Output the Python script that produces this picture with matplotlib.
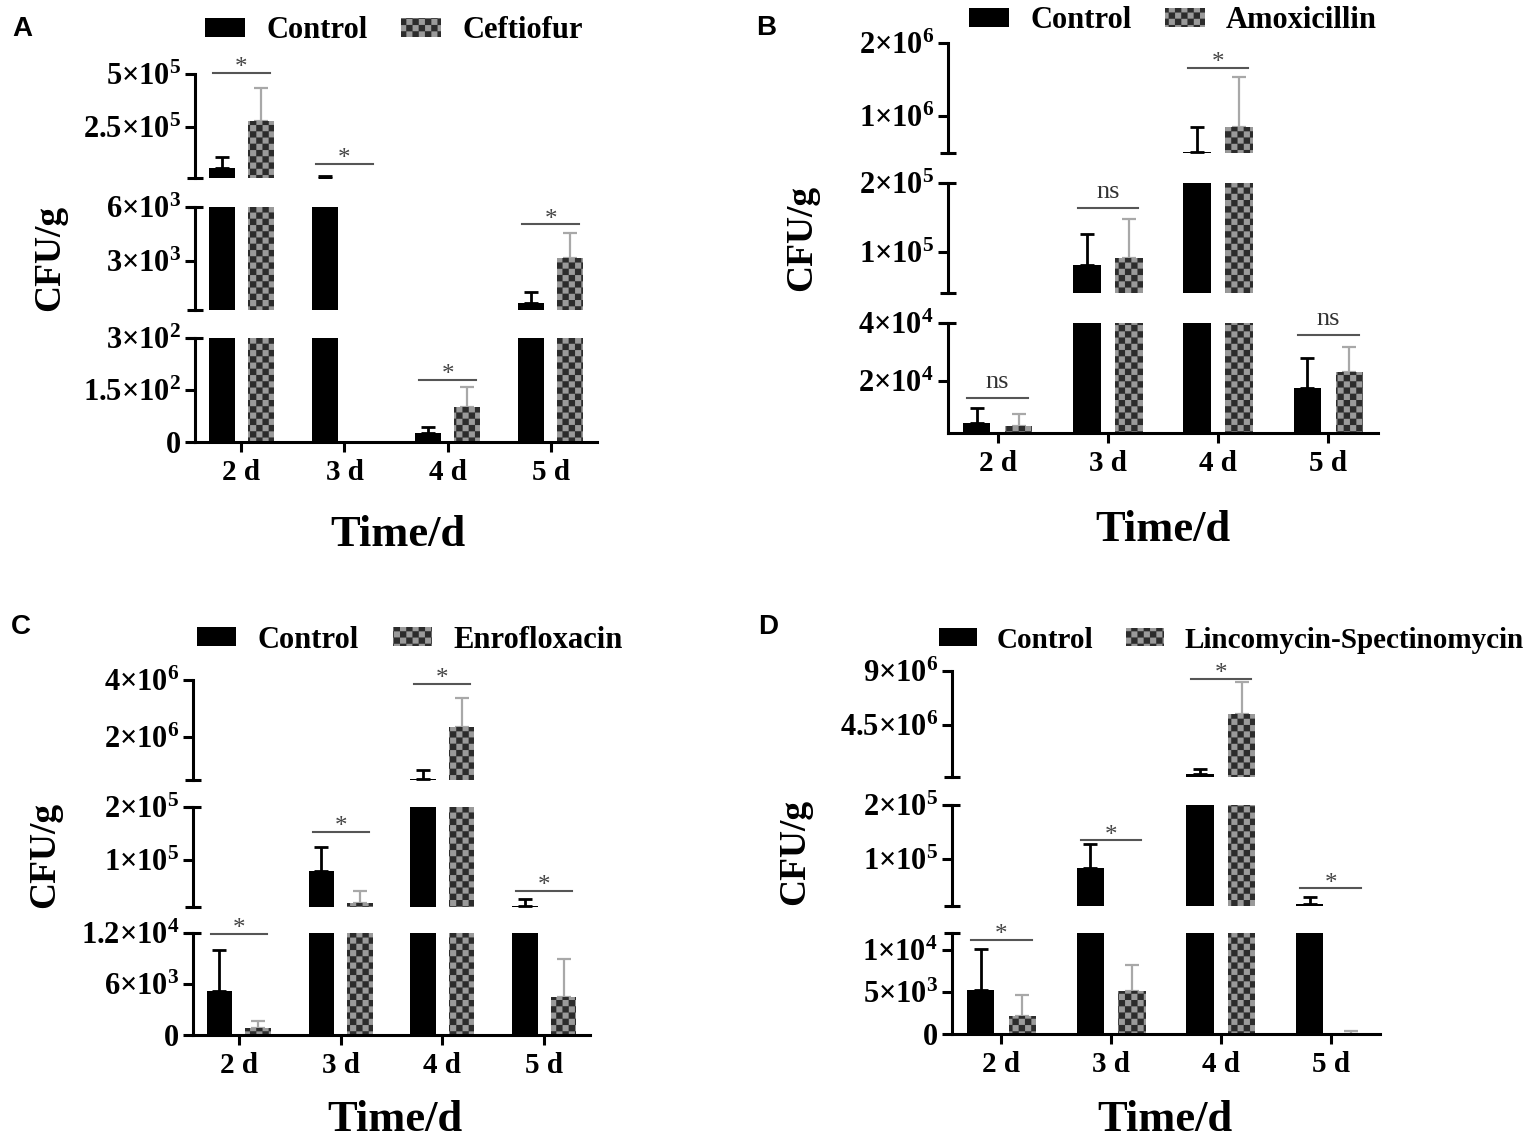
import numpy as np
from matplotlib import pyplot, hatch as mhatch
from matplotlib.path import Path
from matplotlib.ticker import FixedLocator, FuncFormatter

pyplot.rcParams["font.family"] = "Liberation Serif"
pyplot.rcParams["font.weight"] = "bold"
pyplot.rcParams["mathtext.fontset"] = "custom"
pyplot.rcParams["mathtext.rm"] = "Liberation Serif:bold"
pyplot.rcParams["mathtext.bf"] = "Liberation Serif:bold"
pyplot.rcParams["mathtext.it"] = "Liberation Serif:italic:bold"
pyplot.rcParams["mathtext.default"] = "bf"
pyplot.rcParams["hatch.linewidth"] = 0.1
pyplot.rcParams["axes.linewidth"] = 2.2


class CheckerHatch(mhatch.HatchPatternBase):
    # an "o" in the hatch string gives a checkerboard of filled squares
    def __init__(self, hatch, density):
        self.n = 16 if "o" in hatch else 0
        self.num_vertices = 5 * (self.n * self.n // 2)

    def set_vertices_and_codes(self, vertices, codes):
        s = 1.0 / self.n
        k = 0
        for i in range(self.n):
            for j in range(self.n):
                if (i + j) % 2:
                    continue
                vertices[k:k + 5] = [(i*s, j*s), ((i+1)*s, j*s), ((i+1)*s, (j+1)*s), (i*s, (j+1)*s), (i*s, j*s)]
                codes[k:k + 5] = [Path.MOVETO, Path.LINETO, Path.LINETO, Path.LINETO, Path.CLOSEPOLY]
                k += 5

mhatch._hatch_types = [CheckerHatch]


days = ["2 d", "3 d", "4 d", "5 d"]

# A - Ceftiofur
a_control = [5.4e4, 8e3, 26, 700]
a_control_err = [5.3e4, 8e3, 17, 600]
a_treated = [2.75e5, 0, 100, 3200]
a_treated_err = [1.58e5, 0, 58, 1360]
a_segments = [(0, 300), (300, 6e3), (6e3, 5e5)]
a_ticks = [[0, 150, 300], [3e3, 6e3], [2.5e5, 5e5]]
a_sig = [5.05e5, 7.3e4, 180, 5050]
a_sig_labels = ["*", "*", "*", "*"]

# B - Amoxicillin
b_control = [5500, 8.1e4, 5.2e5, 1.76e4]
b_control_err = [5200, 4.5e4, 3.3e5, 1.03e4]
b_treated = [4500, 9.1e4, 8.5e5, 2.31e4]
b_treated_err = [4100, 5.7e4, 6.8e5, 8600]
b_segments = [(2000, 4e4), (4e4, 2e5), (5e5, 2e6)]
b_ticks = [[2e4, 4e4], [1e5, 2e5], [1e6, 2e6]]
b_sig = [1.41e4, 1.64e5, 1.66e6, 3.59e4]
b_sig_labels = ["ns", "ns", "*", "ns"]

# C - Enrofloxacin
c_control = [5200, 8.0e4, 5.3e5, 1.4e4]
c_control_err = [4800, 4.5e4, 3.1e5, 1.3e4]
c_treated = [820, 1.95e4, 2.35e6, 4470]
c_treated_err = [830, 2.25e4, 1.02e6, 4470]
c_segments = [(0, 1.2e4), (1.2e4, 2e5), (5e5, 4e6)]
c_ticks = [[0, 6e3, 1.2e4], [1e5, 2e5], [2e6, 4e6]]
c_sig = [1.19e4, 1.53e5, 3.86e6, 4.3e4]
c_sig_labels = ["*", "*", "*", "*"]

# D - Lincomycin-Spectinomycin
d_control = [5180, 8.2e4, 4.5e5, 1.57e4]
d_control_err = [4900, 4.5e4, 4.1e5, 1.3e4]
d_treated = [2100, 5060, 5.43e6, 50]
d_treated_err = [2500, 3180, 2.66e6, 300]
d_segments = [(0, 1.2e4), (1.2e4, 2e5), (2e5, 9e6)]
d_ticks = [[0, 5e3, 1e4], [1e5, 2e5], [4.5e6, 9e6]]
d_sig = [1.12e4, 1.34e5, 8.34e6, 4.5e4]
d_sig_labels = ["*", "*", "*", "*"]


W, H = 1535, 1148
fig = pyplot.figure(figsize=(W/100, H/100), dpi=100)

# pixel layout of each panel: axis x range, segment rows (bottom px, top px) from low to high
layouts = {
    "A": dict(left=195, right=597, rows=[(442, 338), (310, 207), (178, 74)],
              tag=(22, 29), legend=(394, 31), ylabel=(50, 258), xlabel=(398, 535)),
    "B": dict(left=948, right=1378, rows=[(433, 323), (293, 183), (153, 43)],
              tag=(766, 28), legend=(1173, 21), ylabel=(802, 238), xlabel=(1163, 530)),
    "C": dict(left=193, right=590, rows=[(1035, 933), (907, 807), (780, 680)],
              tag=(21, 627), legend=(410, 640), ylabel=(45, 855), xlabel=(395, 1120)),
    "D": dict(left=952, right=1380, rows=[(1034, 933), (906, 805), (777, 671)],
              tag=(768, 627), legend=(1231, 640), ylabel=(795, 852), xlabel=(1165, 1120)),
}


def sci_label(v, pos=None):
    if v == 0:
        return "0"
    e = int(np.floor(np.log10(v)))
    return rf"${v / 10**e:g}{{\times}}10^{{{e}}}$"


def draw_panel(letter, drug, control, control_err, treated, treated_err, segments, ticks, sig_y, sig_labels, legend_size=22):
    lay = layouts[letter]
    x = np.arange(len(days))
    off, width = 0.19, 0.25
    zero = np.zeros(len(days))
    control = np.asarray(control, float)
    treated = np.asarray(treated, float)
    control_err = np.asarray(control_err, float)
    treated_err = np.asarray(treated_err, float)
    seg_axes = []

    for k, ((lo, hi), tks, (pb, pt)) in enumerate(zip(segments, ticks, lay["rows"])):
        ax = fig.add_axes([lay["left"]/W, 1 - pb/H, (lay["right"] - lay["left"])/W, (pb - pt)/H])
        ax.patch.set_alpha(0)
        # marks that end below this segment are left out, so nothing leaks onto its lower edge
        bc = ax.bar(x - off, np.where(control > lo, control, np.nan), width, color="black", zorder=2.2)
        bt = ax.bar(x + off, np.where(treated > lo, treated, np.nan), width, facecolor="#9a9a9a",
                    edgecolor="#2c2c2c", linewidth=0, hatch="o", zorder=2.2)
        ax.errorbar(x - off, np.where(control + control_err > lo, control, np.nan), yerr=[zero, control_err],
                    fmt="none", ecolor="black", elinewidth=2, capsize=5, capthick=2, zorder=2.1)
        ax.errorbar(x + off, np.where(treated + treated_err > lo, treated, np.nan), yerr=[zero, treated_err],
                    fmt="none", ecolor="#a8a8a8", elinewidth=1.6, capsize=5, capthick=1.6, zorder=2.1)
        ax.set_xlim(-0.45, 3.45)
        ax.set_ylim(lo, hi)
        ax.spines["top"].set_visible(False)
        ax.spines["right"].set_visible(False)

        ends = [hi] if k == 0 else ([lo, hi] if k < len(segments) - 1 else [lo])
        ax.yaxis.set_major_locator(FixedLocator(tks))
        ax.yaxis.set_major_formatter(FuncFormatter(sci_label))
        ax.yaxis.set_minor_locator(FixedLocator(ends))
        ax.yaxis.remove_overlapping_locs = False
        ax.tick_params(axis="y", which="major", direction="out", length=7, width=2.2, labelsize=22, pad=3)
        ax.tick_params(axis="y", which="minor", direction="inout", length=11.5, width=2.2)

        if k == 0:
            ax.set_xticks(x)
            ax.set_xticklabels(days)
            ax.tick_params(axis="x", direction="out", length=7, width=2.2, labelsize=21, pad=5)
        else:
            ax.spines["bottom"].set_visible(False)
            ax.tick_params(axis="x", bottom=False, labelbottom=False)
        seg_axes.append(ax)

    for i, (y, lab) in enumerate(zip(sig_y, sig_labels)):
        ax = next((a for a in seg_axes if a.get_ylim()[0] <= y <= a.get_ylim()[1]), seg_axes[-1])
        ax.plot([i - 0.275, i + 0.275], [y, y], color="#555555", lw=1.5, clip_on=False, zorder=4)
        if lab == "*":
            ax.annotate(lab, (i, y), xytext=(0, -1), textcoords="offset points", ha="center", va="baseline",
                        fontsize=18, fontweight="normal", color="#444444", annotation_clip=False)
        else:
            ax.annotate(lab, (i, y), xytext=(0, 7), textcoords="offset points", ha="center", va="baseline",
                        fontsize=19, fontweight="normal", color="#333333", annotation_clip=False)

    fig.legend([bc, bt], ["Control", drug], loc="center",
               bbox_to_anchor=(lay["legend"][0]/W, 1 - lay["legend"][1]/H), ncol=2, frameon=False,
               prop={"size": legend_size, "weight": "bold"}, handlelength=1.3, handleheight=0.6,
               handletextpad=0.7, columnspacing=1.1, borderpad=0, borderaxespad=0)

    fig.text(lay["ylabel"][0]/W, 1 - lay["ylabel"][1]/H, "CFU/g", rotation=90, ha="center", va="center",
             fontsize=27, fontweight="bold")
    fig.text(lay["xlabel"][0]/W, 1 - lay["xlabel"][1]/H, "Time/d", ha="center", va="center",
             fontsize=32, fontweight="bold")
    fig.text(lay["tag"][0]/W, 1 - lay["tag"][1]/H, letter, ha="center", va="center",
             family="Liberation Sans", fontsize=20, fontweight="bold")


draw_panel("A", "Ceftiofur", a_control, a_control_err, a_treated, a_treated_err, a_segments, a_ticks, a_sig, a_sig_labels)
draw_panel("B", "Amoxicillin", b_control, b_control_err, b_treated, b_treated_err, b_segments, b_ticks, b_sig, b_sig_labels)
draw_panel("C", "Enrofloxacin", c_control, c_control_err, c_treated, c_treated_err, c_segments, c_ticks, c_sig, c_sig_labels)
draw_panel("D", "Lincomycin-Spectinomycin", d_control, d_control_err, d_treated, d_treated_err, d_segments, d_ticks, d_sig, d_sig_labels, legend_size=21)

fig.savefig("out.png", dpi=100)
